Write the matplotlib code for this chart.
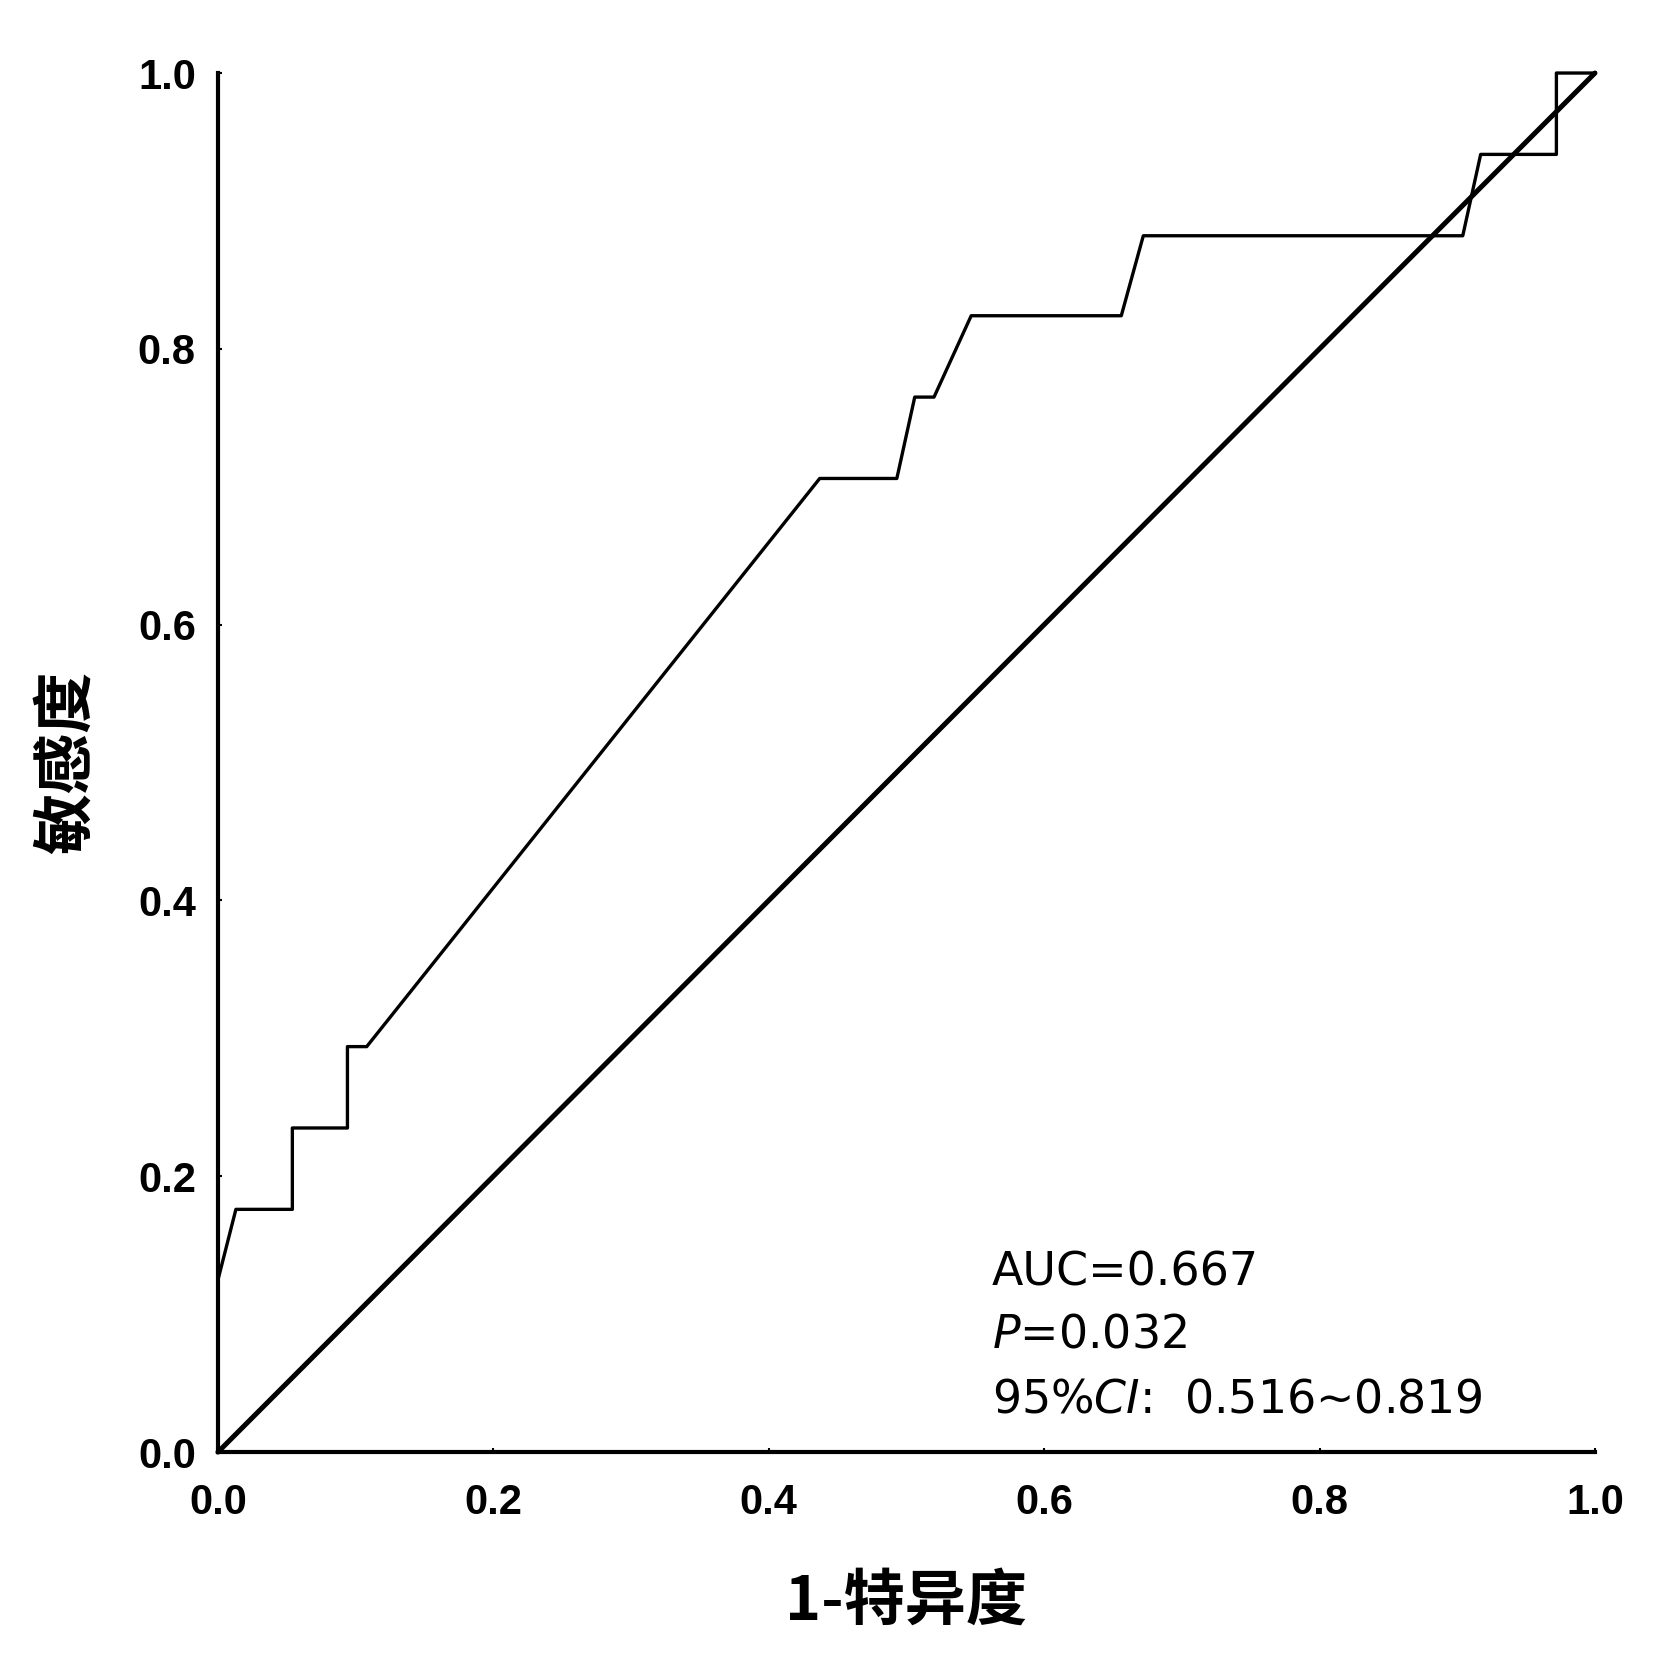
import matplotlib
matplotlib.use("Agg")
import matplotlib.pyplot as plt

# --- ROC curve points ---
fpr = [0.0, 0.0, 0.013, 0.054, 0.054, 0.094, 0.094, 0.108, 0.437, 0.493,
       0.506, 0.520, 0.547, 0.656, 0.672, 0.904, 0.917, 0.972, 0.972, 1.0]
tpr = [0.0, 0.125, 0.176, 0.176, 0.235, 0.235, 0.294, 0.294, 0.706, 0.706,
       0.765, 0.765, 0.824, 0.824, 0.882, 0.882, 0.941, 0.941, 1.0, 1.0]
ref_line = [0.0, 1.0]
ticks = [0.0, 0.2, 0.4, 0.6, 0.8, 1.0]
tick_labels = ["0.0", "0.2", "0.4", "0.6", "0.8", "1.0"]
stats_lines = ["AUC=0.667", "$P$=0.032", "95%$CI$:  0.516~0.819"]

fig = plt.figure(figsize=(16.54, 16.75), dpi=100)
ax = fig.add_axes([0.1318, 0.1331, 0.9643 - 0.1318, 0.9564 - 0.1331])

ax.plot(fpr, tpr, color="black", lw=2.4, solid_joinstyle="round", clip_on=False)
ax.plot(ref_line, ref_line, color="black", lw=3.6, solid_capstyle="round", clip_on=False)

ax.set_xlim(0, 1)
ax.set_ylim(0, 1)
for s in ["top", "right"]:
    ax.spines[s].set_visible(False)
for s in ["left", "bottom"]:
    ax.spines[s].set_linewidth(3.0)

ax.set_xticks(ticks)
ax.set_yticks(ticks)
ax.set_xticklabels(tick_labels, fontfamily="Liberation Sans", fontweight="bold", fontsize=30)
ax.set_yticklabels(tick_labels, fontfamily="Liberation Sans", fontweight="bold", fontsize=30)
ax.tick_params(axis="both", direction="in", length=3, width=1.5)
ax.tick_params(axis="x", pad=22)
ax.tick_params(axis="y", pad=16)

cjk = ["Noto Sans CJK SC", "DejaVu Sans"]
ax.set_xlabel("1-特异度", fontfamily=cjk, fontweight="bold", fontsize=44, labelpad=35)
ax.set_ylabel("敏感度", fontfamily=cjk, fontweight="bold", fontsize=44, labelpad=29)

# --- annotation block ---
y_base = [0.121, 0.0755, 0.029]
for txt, yb in zip(stats_lines, y_base):
    ax.text(0.562, yb, txt, fontfamily="DejaVu Sans", fontsize=33, va="baseline", ha="left")

fig.savefig("out.png", dpi=100)
